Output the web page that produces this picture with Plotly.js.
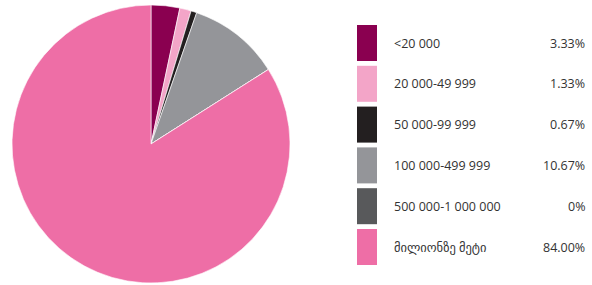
<!DOCTYPE html>
<html><head><meta charset="utf-8">
<script src="https://cdn.plot.ly/plotly-3.0.1.min.js"></script>
<style>html,body{margin:0;padding:0;background:#fff;}#chart{width:592px;height:285px;}</style>
</head><body><div id="chart"></div>
<script>
const categories = ["<20 000", "20 000-49 999", "50 000-99 999", "100 000-499 999", "500 000-1 000 000", "მილიონზე მეტი"];
const values = [3.33, 1.33, 0.67, 10.67, 0, 84.00];
const valueLabels = ["3.33%", "1.33%", "0.67%", "10.67%", "0%", "84.00%"];
const colors = ["#8a0050", "#f3a5c8", "#231f20", "#949599", "#58595b", "#ee6ea6"];

const W = 592, H = 285;
const px = x => x / W, py = y => 1 - y / H;

const shapes = [], annotations = [];
categories.forEach((c, i) => {
  const top = 25 + i * 40.8;
  shapes.push({type: "rect", xref: "paper", yref: "paper",
    x0: px(357), x1: px(377), y0: py(top), y1: py(top + 36),
    fillcolor: colors[i], line: {width: 0}});
  annotations.push({xref: "paper", yref: "paper", x: px(392), y: py(top + 18),
    xanchor: "left", yanchor: "middle", showarrow: false, text: c,
    font: {size: 12.5, color: "#333", family: "Open Sans, DejaVu Sans, sans-serif"}});
  annotations.push({xref: "paper", yref: "paper", x: px(587), y: py(top + 18),
    xanchor: "right", yanchor: "middle", showarrow: false, text: valueLabels[i],
    font: {size: 12.5, color: "#333", family: "Open Sans, DejaVu Sans, sans-serif"}});
});

Plotly.newPlot("chart", [{
  type: "pie", labels: categories, values: values, sort: false,
  direction: "clockwise", rotation: 0, textinfo: "none", hoverinfo: "none",
  marker: {colors: colors, line: {color: "#ffffff", width: 0.6}},
  domain: {x: [px(12), px(290)], y: [py(283), py(5)]}
}], {
  width: W, height: H, margin: {l: 0, r: 0, t: 0, b: 0},
  paper_bgcolor: "#fff", plot_bgcolor: "#fff", showlegend: false,
  shapes: shapes, annotations: annotations
}, {staticPlot: true});
</script></body></html>
